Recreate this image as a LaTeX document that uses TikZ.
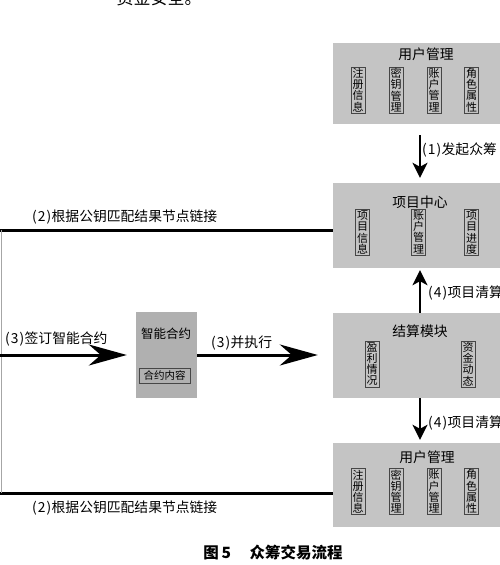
\documentclass[tikz,border=0pt]{standalone}
\usepackage{fontspec}
\setmainfont{Noto Sans CJK SC}
\usetikzlibrary{arrows.meta,calc}
\definecolor{boxgray}{RGB}{196,196,196}
\definecolor{scgray}{RGB}{176,176,176}
\definecolor{edgegray}{RGB}{70,70,70}
\newcommand{\pn}[1]{(\kern1pt#1\kern1pt)\kern0.5pt}
\tikzset{
  mainbox/.style={fill=boxgray,draw=none,inner sep=0pt},
  scbox/.style={fill=scgray,draw=none,inner sep=0pt},
  subbox/.style={fill=boxgray,draw=edgegray,line width=0.9pt,inner sep=1pt,minimum width=14pt,minimum height=46pt,align=center,font=\fontsize{11}{11.2}\selectfont},
  title/.style={font=\fontsize{13.8}{15}\selectfont,inner sep=0pt},
  lbl/.style={font=\fontsize{13.8}{15}\selectfont,inner sep=0pt},
  bigarrow/.style={line width=3pt,-{Stealth[length=38pt,width=21pt,inset=12pt]}},
  vararrow/.style={line width=2.6pt,-{Stealth[length=15pt,width=15pt,inset=4pt]}},
  thickline/.style={line width=3pt},
}
\begin{document}
\begin{tikzpicture}[x=1pt,y=-1pt]
\useasboundingbox (0,0) rectangle (500,565);
\clip (0,0) rectangle (500,565);
\fill[white] (0,0) rectangle (500,565);
% cut-off text at top
\node[font=\fontsize{17}{19}\selectfont,inner sep=0pt] (toptxt) at (159,-2) {资金安全。};
% top user management
\node[mainbox,minimum width=187pt,minimum height=81pt] (um1) at (426.5,83.5) {};
\node[title] (um1t) at (426,54) {用户管理};
\node[subbox] (um1a) at (358,90) {注\\册\\信\\息};
\node[subbox] (um1b) at (396,90) {密\\钥\\管\\理};
\node[subbox] (um1c) at (434,90) {账\\户\\管\\理};
\node[subbox] (um1d) at (471.5,90) {角\\色\\属\\性};
% project center
\node[mainbox,minimum width=174pt,minimum height=85pt] (pc) at (420,225.5) {};
\node[title] (pct) at (420,202) {项目中心};
\node[subbox] (pca) at (362.5,232.5) {项\\目\\信\\息};
\node[subbox] (pcb) at (418.5,232) {账\\户\\管\\理};
\node[subbox] (pcc) at (471.5,232.5) {项\\目\\进\\度};
% settlement
\node[mainbox,minimum width=174pt,minimum height=85pt] (js) at (420,355.5) {};
\node[title] (jst) at (420,331) {结算模块};
\node[subbox] (jsa) at (372,364) {盈\\利\\情\\况};
\node[subbox] (jsb) at (468,364) {资\\金\\动\\态};
% bottom user management
\node[mainbox,minimum width=187pt,minimum height=84pt] (um2) at (426.5,485) {};
\node[title] (um2t) at (427,457) {用户管理};
\node[subbox] (um2a) at (358,491.5) {注\\册\\信\\息};
\node[subbox] (um2b) at (396,491.5) {密\\钥\\管\\理};
\node[subbox] (um2c) at (434,491.5) {账\\户\\管\\理};
\node[subbox] (um2d) at (471.5,491.5) {角\\色\\属\\性};
% smart contract
\node[scbox,minimum width=61pt,minimum height=86pt] (sc) at (166.5,355) {};
\node[title,font=\fontsize{12.5}{14}\selectfont] (sct) at (166,334) {智能合约};
\node[fill=scgray,draw=edgegray,line width=0.9pt,minimum width=51pt,minimum height=15pt,inner sep=0pt,font=\fontsize{10.5}{12}\selectfont] (scc) at (164.5,375.5) {合约内容};
% vertical arrows
\draw[vararrow,shorten <=11pt,shorten >=5pt] (um1.south -| pc.north) -- (pc.north);
\node[lbl,anchor=west] (l1) at (422,150) {\pn{1}发起众筹};
\draw[vararrow,shorten >=2pt] (js.north) -- (js.north |- pc.south);
\node[lbl,anchor=west] (l4a) at (428,293) {\pn{4}项目清算};
\draw[vararrow,shorten >=3pt] (js.south) -- (js.south |- um2.north);
\node[lbl,anchor=west] (l4b) at (428,423) {\pn{4}项目清算};
% horizontal link lines
\coordinate (L1) at (0,230);
\coordinate (L2) at (0,493);
\draw[thickline] (L1) -- (L1 -| pc.west);
\draw[thickline] (L2) -- (L2 -| um2.west);
\draw[gray!70,line width=0.8pt] (1,230) -- (1,493);
\node[lbl,anchor=west] (l2a) at (32,217) {\pn{2}根据公钥匹配结果节点链接};
\node[lbl,anchor=west] (l2b) at (32,508) {\pn{2}根据公钥匹配结果节点链接};
% horizontal arrows
\coordinate (A0) at (0,355);
\draw[bigarrow,shorten >=9pt] (A0) -- (A0 -| sc.west);
\node[lbl,anchor=west] (l3a) at (5,339) {\pn{3}签订智能合约};
\draw[bigarrow,shorten >=15pt] (sc.east |- A0) -- (A0 -| js.west);
\node[lbl,anchor=west] (l3b) at (211,343) {\pn{3}并执行};
% caption
\node[font=\fontsize{15.5}{17}\selectfont\bfseries,inner sep=0pt] (cap) at (273,553) {图\,5\hspace{1.2em}众筹交易流程};
\end{tikzpicture}
\end{document}
